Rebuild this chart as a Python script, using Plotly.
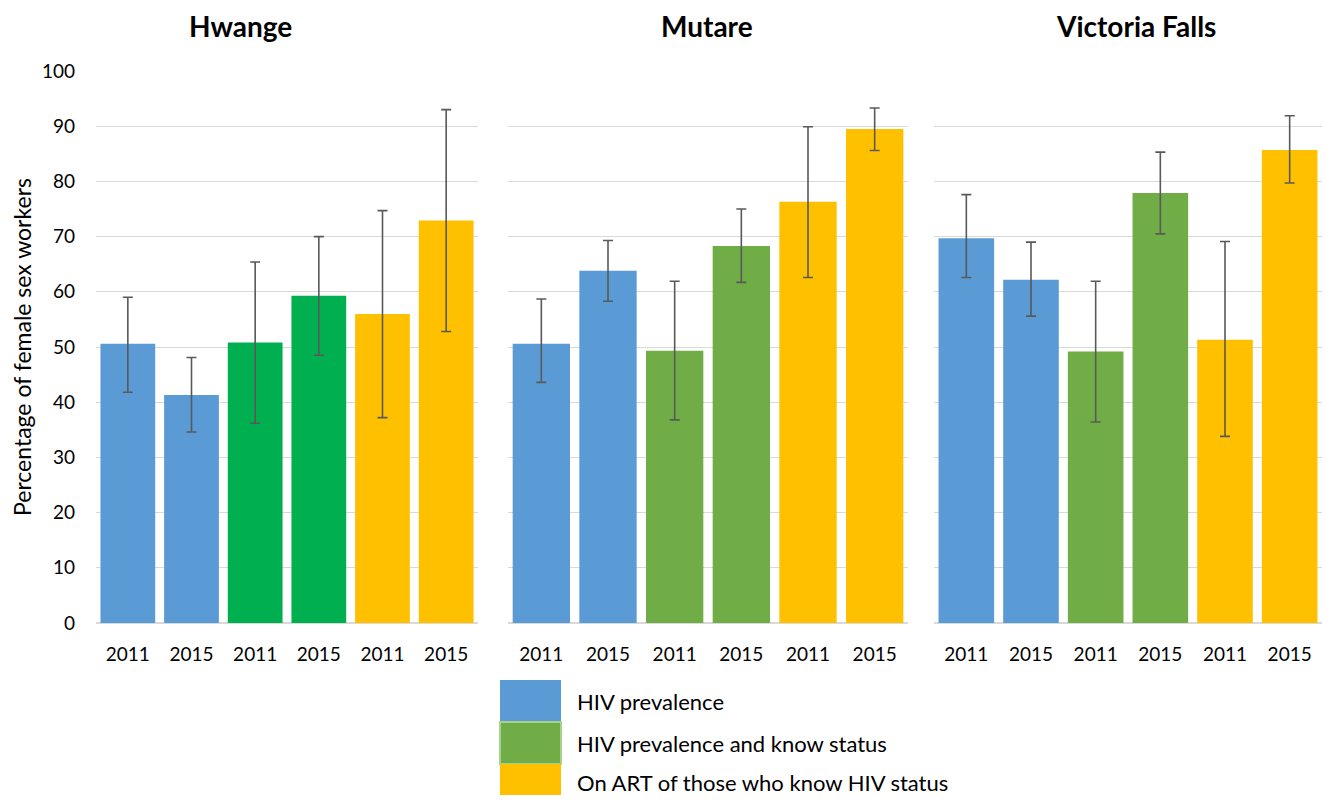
import plotly.graph_objects as go

# Data
sites = ['Hwange', 'Mutare', 'Victoria Falls']
years = ['2011', '2015', '2011', '2015', '2011', '2015']
measures = ['HIV prevalence', 'HIV prevalence and know status', 'On ART of those who know HIV status']

hwange_values = [50.6, 41.3, 50.8, 59.3, 56.0, 72.9]
hwange_low = [41.8, 34.6, 36.2, 48.5, 37.2, 52.8]
hwange_high = [59.0, 48.1, 65.4, 70.0, 74.7, 93.0]

mutare_values = [50.6, 63.8, 49.3, 68.3, 76.3, 89.5]
mutare_low = [43.6, 58.3, 36.8, 61.7, 62.6, 85.6]
mutare_high = [58.7, 69.3, 61.9, 75.0, 89.9, 93.3]

vicfalls_values = [69.7, 62.2, 49.2, 77.9, 51.3, 85.7]
vicfalls_low = [62.6, 55.6, 36.4, 70.5, 33.8, 79.7]
vicfalls_high = [77.6, 69.0, 61.9, 85.3, 69.1, 91.9]

blue = '#5B9BD5'
green = '#70AD47'
hwange_green = '#00B050'
yellow = '#FFC000'

panel_colors = [
    [blue, blue, hwange_green, hwange_green, yellow, yellow],
    [blue, blue, green, green, yellow, yellow],
    [blue, blue, green, green, yellow, yellow],
]
panels = [
    (hwange_values, hwange_low, hwange_high),
    (mutare_values, mutare_low, mutare_high),
    (vicfalls_values, vicfalls_low, vicfalls_high),
]

# page body has an 8px margin, so the figure is drawn a little smaller
OFF = 8
W, H = 1330 - 2 * OFF, 803 - 2 * OFF


def px(x):
    return (x - OFF) / W


def py(y):
    return (H - (y - OFF)) / H


x_domains = [[px(96), px(478)], [px(508), px(908)], [px(934), px(1330)]]
title_x = [px(240), px(707), px(1136)]
y_domain = [py(623), py(71)]
font = 'Lato, Calibri, sans-serif'

fig = go.Figure()
positions = list(range(len(years)))

for i, (vals, low, high) in enumerate(panels):
    suffix = '' if i == 0 else str(i + 1)
    fig.add_trace(go.Bar(
        x=positions, y=vals,
        marker=dict(color=panel_colors[i], line=dict(width=0)),
        error_y=dict(
            type='data', symmetric=False,
            array=[h - v for h, v in zip(high, vals)],
            arrayminus=[v - l for v, l in zip(vals, low)],
            color='#595959', thickness=1.6, width=5,
        ),
        xaxis='x' + suffix, yaxis='y' + suffix,
        showlegend=False, hoverinfo='skip',
    ))

    axis_x = dict(
        domain=[min(x_domains[i][0], 1), min(x_domains[i][1], 1)],
        range=[-0.5, 5.5], anchor='y' + suffix,
        tickvals=positions, ticktext=years,
        tickfont=dict(family=font, size=19, color='#000000'),
        showgrid=False, zeroline=False, showline=False, ticks='',
        ticklabelstandoff=18, fixedrange=True, automargin=False,
    )
    axis_y = dict(
        domain=y_domain, range=[0, 100], dtick=10,
        showgrid=True, gridcolor='#D9D9D9', gridwidth=1.2,
        zeroline=True, zerolinecolor='#D9D9D9', zerolinewidth=1.5,
        showline=False, ticks='', fixedrange=True, automargin=False,
        anchor='x' + suffix,
        showticklabels=(i == 0),
        tickfont=dict(family=font, size=19, color='#000000'),
        ticklabelstandoff=20,
    )
    if i == 0:
        axis_y['title'] = dict(text='Percentage of female sex workers',
                               font=dict(family=font, size=23, color='#000000'),
                               standoff=7)
    fig.layout['xaxis' + suffix] = axis_x
    fig.layout['yaxis' + suffix] = axis_y

    fig.add_annotation(
        text='<b>' + sites[i] + '</b>',
        x=title_x[i], y=py(26),
        xref='paper', yref='paper', showarrow=False,
        xanchor='center', yanchor='middle',
        font=dict(family=font, size=28, color='#000000'),
    )

# Legend drawn as stacked swatches
legend_colors = [blue, green, yellow]
swatch_top = 680
swatch_h = 42
for k, (label, col) in enumerate(zip(measures, legend_colors)):
    y0 = swatch_top + k * swatch_h
    fig.add_shape(
        type='rect', xref='paper', yref='paper',
        x0=px(500), x1=px(561),
        y0=py(y0 + swatch_h), y1=py(y0),
        fillcolor=col,
        line=dict(color='#A9D18E' if col == green else col, width=2 if col == green else 0),
    )
    fig.add_annotation(
        text=label, xref='paper', yref='paper',
        x=px(575), y=py(min(y0 + swatch_h / 2, 782)),
        xanchor='left', yanchor='middle', showarrow=False,
        font=dict(family=font, size=22, color='#000000'),
    )

fig.update_layout(
    width=W, height=H,
    margin=dict(l=0, r=0, t=0, b=0),
    paper_bgcolor='white', plot_bgcolor='white',
    bargap=0.14,
)

fig.write_html('out.html')
